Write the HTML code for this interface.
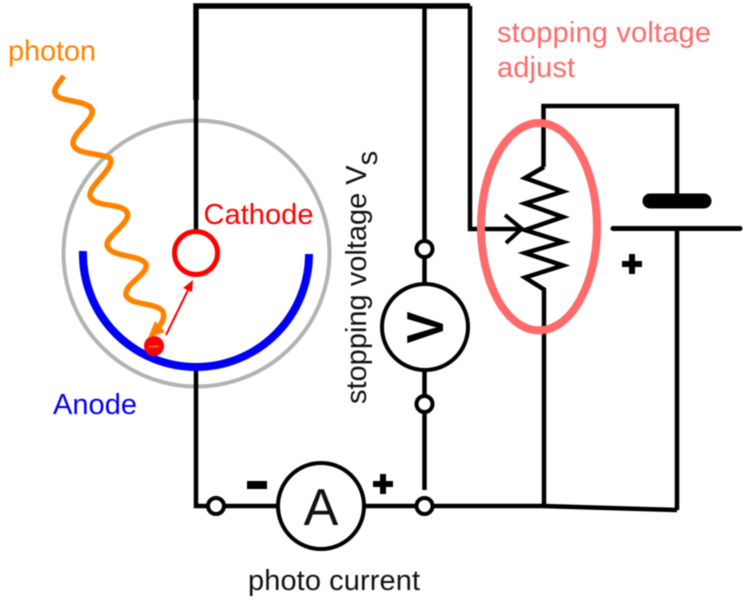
<!DOCTYPE html>
<html>
<head>
<meta charset="utf-8">
<style>
html,body{margin:0;padding:0;background:#fff;width:745px;height:600px;overflow:hidden}
svg{display:block;filter:blur(.4px)}
text{font-family:"Liberation Sans",Arial,sans-serif;font-size:29px}
</style>
</head>
<body>
<svg width="745" height="600" viewBox="0 0 745 600" xmlns="http://www.w3.org/2000/svg">
<rect width="745" height="600" fill="#fff"/>
<!-- tube -->
<circle cx="196.500" cy="253.500" r="133" fill="none" stroke="#b3b3b3" stroke-width="4"/>
<!-- wires -->
<g fill="none" stroke="#000" stroke-linejoin="miter">
<path d="M196 100V6H470" stroke-width="5.500"/>
<path d="M196 100V232" stroke-width="4.500"/>
<path d="M470 6V229H522" stroke-width="4.500"/>
<path d="M424.500 6V490" stroke-width="4.500"/>
<path d="M196 367V506H424H543L677 510" stroke-width="4.500"/>
<path d="M677 510V228" stroke-width="4.500"/>
<path d="M677 202V106H543.500V167" stroke-width="4.500"/>
<path d="M544 167L525 178L563 191.500L525 203.500L563 217L525 230L563 242L525 253L563 265.500L525 277.500L544 289.500V506" stroke-width="4.500"/>
<path d="M505 215L521.700 228.700L506 243" stroke-width="4"/>
</g>
<!-- anode & cathode -->
<path d="M83 251A113 113 0 0 0 196 367A113 113 0 0 0 309 254" fill="none" stroke="#0000f5" stroke-width="8"/>
<circle cx="196" cy="253" r="21.500" fill="#fff" stroke="#f00" stroke-width="5"/>
<!-- electron and arrow -->
<circle cx="154" cy="346" r="10" fill="#f00"/>
<path d="M149 346.500H159" stroke="#e8e020" stroke-width="1.500" stroke-dasharray="1 .7"/>
<path d="M166 335L189 288" stroke="#f00" stroke-width="2" fill="none"/>
<path d="M193 280L183 288L192 292Z" fill="#f00"/>
<!-- photon -->
<path d="M64 76C58 84 52 90 56 95C62 102 84 100 91 108C98 118 72 132 73 144C76 155 96 152 110 158C116 168 88 186 90 196C94 208 120 202 127 212C132 222 106 236 107 245C110 258 140 254 146 264C149 274 124 284 126 295C130 306 158 302 163 312C165 318 162 322 159 327" fill="none" stroke="#ff8300" stroke-width="5.500"/>
<path d="M148 338L155 321L165 332Z" fill="#ff8300"/>
<!-- meters -->
<g fill="#fff" stroke="#000">
<circle cx="425" cy="327" r="43" stroke-width="4"/>
<circle cx="321" cy="506" r="43" stroke-width="4"/>
<circle cx="424.500" cy="249" r="8" stroke-width="4"/>
<circle cx="424.500" cy="404" r="8" stroke-width="4"/>
<circle cx="216" cy="506" r="8" stroke-width="4"/>
<circle cx="424.500" cy="506" r="8" stroke-width="4"/>
</g>
<!-- potentiometer ellipse -->
<ellipse cx="539" cy="226.700" rx="58" ry="103.700" fill="none" stroke="#ff6a6a" stroke-width="8"/>
<!-- battery -->
<path d="M650 201H704" stroke="#000" stroke-width="15" stroke-linecap="round"/>
<path d="M613 228.500H740" stroke="#000" stroke-width="5" stroke-linecap="round"/>
<!-- signs -->
<rect x="247" y="481" width="20" height="8" fill="#000"/>
<path d="M373 484H393M383 474V494" stroke="#000" stroke-width="6" fill="none"/>
<path d="M622 264H642M632 254V274" stroke="#000" stroke-width="6" fill="none"/>
<!-- labels -->
<text x="8" y="60.500" fill="#ff8300" textLength="88">photon</text>
<text x="203.500" y="224" fill="#f00" textLength="110">Cathode</text>
<text x="53" y="414" fill="#0000f5" textLength="84">Anode</text>
<text x="248" y="590" fill="#111" textLength="172">photo current</text>
<text x="497" y="42" fill="#ff6a6a" textLength="214">stopping voltage</text>
<text x="497" y="77" fill="#ff6a6a" textLength="78">adjust</text>
<text transform="translate(366 404) rotate(-90)" fill="#111">stopping voltage V<tspan dy="11">s</tspan></text>
<text x="321" y="525" text-anchor="middle" style="font-size:52px" fill="#111">A</text>
<text transform="translate(443 343.500) rotate(-90)" textLength="32" lengthAdjust="spacingAndGlyphs" style="font-size:52px;font-weight:bold" fill="#000">V</text>
</svg>
</body>
</html>
